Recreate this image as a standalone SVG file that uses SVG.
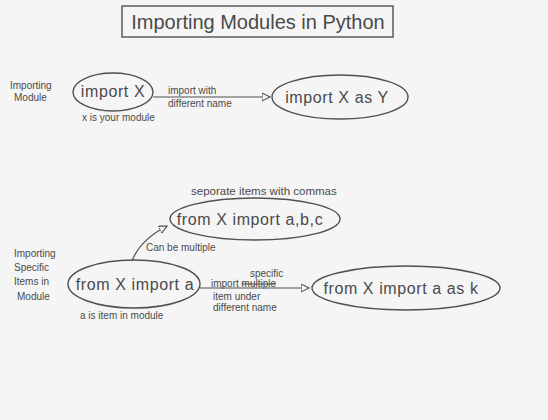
<svg xmlns="http://www.w3.org/2000/svg" width="548" height="420" viewBox="0 0 548 420">
<style>
.bg{fill:#f5f5f6}
.shape{fill:none;stroke:#505050;stroke-width:1.4}
.edge{fill:none;stroke:#505050;stroke-width:1.2}
.t{font-family:"Liberation Sans",Arial,sans-serif;fill:#4a4a4a}
.big{font-size:16px;letter-spacing:0.6px}
.sm{font-size:10px}
.title{font-size:20px}
</style>
<defs>
<marker id="ah" markerWidth="10" markerHeight="10" refX="8" refY="4" orient="auto" markerUnits="userSpaceOnUse">
<path d="M0,0 L8,4 L0,8 Z" fill="#f5f5f6" stroke="#505050" stroke-width="1.1"/>
</marker>
</defs>
<rect class="bg" x="0" y="0" width="548" height="420"/>
<g id="title">
<rect class="shape" x="122" y="6" width="271" height="31"/>
<text class="t title" x="258" y="29" text-anchor="middle">Importing Modules in Python</text>
</g>
<g id="label-importing-module">
<text class="t sm" x="10" y="89">Importing</text>
<text class="t sm" x="14" y="101">Module</text>
</g>
<g id="label-importing-specific">
<text class="t sm" x="14" y="257">Importing</text>
<text class="t sm" x="14" y="271">Specific</text>
<text class="t sm" x="14" y="285">Items in</text>
<text class="t sm" x="17" y="300">Module</text>
</g>
<g id="connectors">
<path class="edge" d="M153,97 L270,97" marker-end="url(#ah)"/>
<path class="edge" d="M132,261 Q140,240 167,226" marker-end="url(#ah)"/>
<path class="edge" d="M200,288 L309,288" marker-end="url(#ah)"/>
<text class="t sm" x="168" y="94">import with</text>
<text class="t sm" x="168" y="107">different name</text>
<text class="t sm" x="146" y="251">Can be multiple</text>
<text class="t sm" x="250" y="277">specific</text>
<text class="t sm" x="211" y="287">import <tspan text-decoration="line-through">multiple</tspan></text>
<text class="t sm" x="213" y="300">item under</text>
<text class="t sm" x="213" y="311">different name</text>
</g>
<g id="node-import-x">
<ellipse class="shape" cx="113" cy="92" rx="40" ry="19"/>
<text class="t big" x="113" y="97" text-anchor="middle">import X</text>
<text class="t sm" x="82" y="121">x is your module</text>
</g>
<g id="node-import-x-as-y">
<ellipse class="shape" cx="340" cy="97" rx="68" ry="22"/>
<text class="t big" x="337" y="103" text-anchor="middle">import X as Y</text>
</g>
<g id="node-from-x-import-abc">
<text class="t" x="191" y="195" style="font-size:11.5px">seporate items with commas</text>
<ellipse class="shape" cx="255" cy="219" rx="85" ry="21"/>
<text class="t big" x="250" y="225" text-anchor="middle">from X import a,b,c</text>
</g>
<g id="node-from-x-import-a">
<ellipse class="shape" cx="134" cy="284" rx="66" ry="24"/>
<text class="t big" x="135" y="290" text-anchor="middle">from X import a</text>
<text class="t sm" x="80" y="319">a is item in module</text>
</g>
<g id="node-from-x-import-a-as-k">
<ellipse class="shape" cx="406" cy="288" rx="94" ry="22"/>
<text class="t big" x="401" y="294" text-anchor="middle">from X import a as k</text>
</g>
</svg>
